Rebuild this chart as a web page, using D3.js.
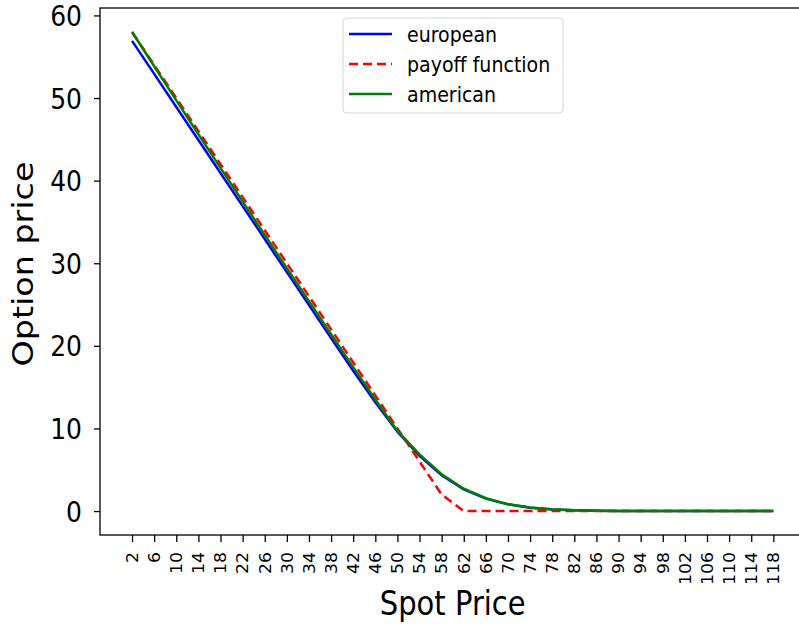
<!DOCTYPE html>
<html lang="en">
<head>
<meta charset="UTF-8">
<title>option price</title>
<style>
  body{margin:0;background:#fff;}
  svg{display:block;font-family:"DejaVu Sans",sans-serif;}
</style>
</head>
<body>
<svg width="799" height="626"></svg>
<script src="https://d3js.org/d3.v7.min.js"></script>
<script>
// spot prices (x categories / tick labels)
var spot = [2,6,10,14,18,22,26,30,34,38,42,46,50,54,58,62,66,70,74,78,82,86,90,94,98,102,106,110,114,118];
// european put values
var european = [56.92,52.92,48.92,44.92,40.92,36.92,32.92,28.92,24.93,20.93,16.98,13.17,9.6,6.67,4.32,2.62,1.50,0.81,0.41,0.20,0.09,0.04,0.02,0.01,0,0,0,0,0,0];
// payoff max(K-S,0)
var payoff = [58,54,50,46,42,38,34,30,26,22,18,14,10,6,2,0,0,0,0,0,0,0,0,0,0,0,0,0,0,0];
// american put values
var american = [58,53.85,49.72,45.62,41.55,37.48,33.42,29.4,25.4,21.4,17.42,13.5,9.7,6.85,4.45,2.7,1.55,0.83,0.42,0.21,0.1,0.04,0.02,0.01,0,0,0,0,0,0];
var yTicks = [0,10,20,30,40,50,60];
var legendNames = ["european","payoff function","american"];

var stretch = 1.15; // picture is a bit taller than wide

var svg = d3.select("svg");
var pl = 100, pr = 805.4, pt = 8, pb = 535;

var x = d3.scaleLinear().domain([-3.8,123.8]).range([pl,pr]);
var y = d3.scaleLinear().domain([-2.9,60.9]).range([pb,pt]);

// x axis
var gx = svg.append("g").attr("transform","translate(0,"+pb+")")
  .call(d3.axisBottom(x).tickValues(spot).tickSize(7).tickSizeOuter(0).tickFormat(d3.format("d")));
gx.select(".domain").remove();
gx.selectAll("line").attr("stroke","#000").attr("stroke-width",1.3);
gx.selectAll("text").attr("x",null).attr("y",null).attr("dy","0.35em")
  .attr("text-anchor","end").attr("font-size",15).attr("fill","#000")
  .attr("font-family","DejaVu Sans")
  .attr("transform","translate(0,17) scale(1,"+stretch+") rotate(-90)");

// y axis
var gy = svg.append("g").attr("transform","translate("+pl+",0)")
  .call(d3.axisLeft(y).tickValues(yTicks).tickSize(6).tickSizeOuter(0));
gy.select(".domain").remove();
gy.selectAll("line").attr("stroke","#000").attr("stroke-width",1.3);
gy.selectAll("text").attr("x",null).attr("dy","0.35em")
  .attr("text-anchor","end").attr("font-size",25).attr("fill","#000")
  .attr("font-family","DejaVu Sans")
  .attr("transform","translate(-18,0) scale(1,"+stretch+")");

// lines
var rows = spot.map(function(s,i){return {s:s,eu:european[i],pay:payoff[i],am:american[i]};});
function lineFor(key){
  return d3.line().x(function(d){return x(d.s)}).y(function(d){return y(d[key])});
}
svg.append("path").attr("d",lineFor("eu")(rows)).attr("fill","none")
  .attr("stroke","#0000ff").attr("stroke-width",2.5);
svg.append("path").attr("d",lineFor("pay")(rows)).attr("fill","none")
  .attr("stroke","#ff0000").attr("stroke-width",2.5).attr("stroke-dasharray","9,5");
svg.append("path").attr("d",lineFor("am")(rows)).attr("fill","none")
  .attr("stroke","#008000").attr("stroke-width",2.5);

// frame
svg.append("rect").attr("x",pl).attr("y",pt).attr("width",pr-pl).attr("height",pb-pt)
  .attr("fill","none").attr("stroke","#000").attr("stroke-width",1.3);

// axis labels
svg.append("text").text("Spot Price").attr("text-anchor","middle")
  .attr("font-size",29).attr("fill","#000")
  .attr("transform","translate("+((pl+pr)/2)+",615) scale(1,"+stretch+")");
svg.append("text").text("Option price").attr("text-anchor","middle")
  .attr("font-size",29).attr("fill","#000")
  .attr("transform","translate(33,264) scale(1,"+stretch+") rotate(-90)");

// legend
var lg = svg.append("g");
lg.append("rect").attr("x",343).attr("y",18).attr("width",220).attr("height",95).attr("rx",4)
  .attr("fill","#fff").attr("fill-opacity",0.8).attr("stroke","#d6d6d6").attr("stroke-width",1);
var colors = ["#0000ff","#ff0000","#008000"];
legendNames.forEach(function(n,i){
  var yy = 34 + i*30;
  lg.append("line").attr("x1",349).attr("x2",392).attr("y1",yy).attr("y2",yy)
    .attr("stroke",colors[i]).attr("stroke-width",2.5)
    .attr("stroke-dasharray", i==1 ? "9,5" : null);
  lg.append("text").text(n).attr("font-size",19).attr("fill","#000").attr("dy","0.35em")
    .attr("transform","translate(407,"+yy+") scale(1,"+stretch+")");
});
</script>
</body>
</html>
